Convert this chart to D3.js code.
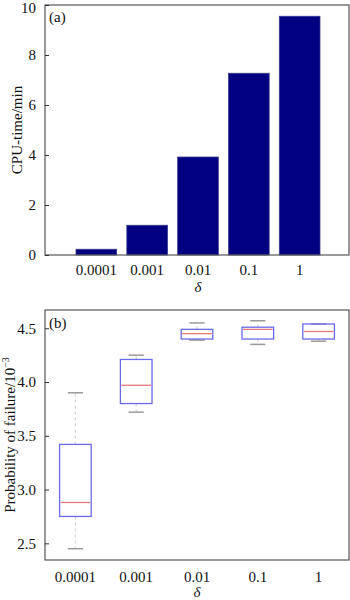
<!DOCTYPE html>
<html><head><meta charset="utf-8">
<script src="https://cdn.jsdelivr.net/npm/d3@7"></script>
<style>body{margin:0;background:#fff}svg{display:block}text{font-family:"Liberation Serif","Times New Roman",serif;fill:#111}</style>
</head><body><svg id="c" width="350" height="600"></svg>
<script>
const categories = ["0.0001","0.001","0.01","0.1","1"];
const cpuTime = [0.23, 1.19, 3.92, 7.27, 9.55];
const cpuTicks = [0,2,4,6,8,10];
// box plot stats (×10^-3)
const whiskerLow  = [2.45, 3.72, 4.39, 4.35, 4.38];
const q1          = [2.75, 3.80, 4.40, 4.40, 4.40];
const median      = [2.88, 3.97, 4.45, 4.49, 4.47];
const q3          = [3.42, 4.21, 4.49, 4.51, 4.54];
const whiskerHigh = [3.90, 4.25, 4.55, 4.57, 4.54];
const pfTicks = [2.5, 3.0, 3.5, 4.0, 4.5];

const svg = d3.select("#c");
const FS = 15;

// ---------- Panel (a) ----------
const A = {l:45, r:349, t:5, b:255};
const xa = d3.scaleLinear().domain([0,6]).range([45.5,350.5]);
const ya = d3.scaleLinear().domain([0,10]).range([A.b,A.t]);
const ga = svg.append("g");
ga.selectAll("rect.bar").data(cpuTime).join("rect").attr("class","bar")
  .attr("x",(d,i)=>xa(i+1)-xa(0.4)+xa(0))
  .attr("width",xa(0.8)-xa(0))
  .attr("y",d=>ya(d)).attr("height",d=>ya(0)-ya(d))
  .attr("fill","#000080").attr("stroke","#3b3b8f").attr("stroke-width",0.8);
ga.append("rect").attr("x",A.l).attr("y",A.t).attr("width",A.r-A.l).attr("height",A.b-A.t)
  .attr("fill","none").attr("stroke","#555").attr("stroke-width",1.2);
const axA = d3.axisLeft(ya).tickValues(cpuTicks).tickSize(-4).tickPadding(9).tickFormat(d3.format("d"));
ga.append("g").attr("transform",`translate(${A.l},0)`).call(axA)
  .call(g=>{g.select(".domain").remove();g.selectAll("line").attr("stroke","#333");
    g.selectAll("text").attr("font-size",FS).attr("fill","#111")
     .attr("dy",d=>d===10?"0.5em":"0.32em");});
ga.selectAll("text.xl").data(categories).join("text").attr("class","xl")
  .attr("x",(d,i)=>xa(i+1)).attr("y",275).attr("text-anchor","middle").attr("font-size",FS).text(d=>d);
ga.append("text").attr("x",xa(3)).attr("y",292).attr("text-anchor","middle")
  .attr("font-size",FS).attr("font-style","italic").text("δ");
ga.append("text").attr("transform",`translate(22,${(A.t+A.b)/2}) rotate(-90)`)
  .attr("text-anchor","middle").attr("font-size",FS).text("CPU-time/min");
ga.append("text").attr("x",49).attr("y",22).attr("font-size",FS).text("(a)");

// ---------- Panel (b) ----------
const B = {l:45, r:349, t:310, b:560};
const xb = d3.scaleBand().domain(categories).range([B.l,B.r]);
const yb = d3.scaleLinear().domain([2.345,4.67]).range([B.b,B.t]);
const gb = svg.append("g");
gb.append("rect").attr("x",B.l).attr("y",B.t).attr("width",B.r-B.l).attr("height",B.b-B.t)
  .attr("fill","#fff").attr("stroke","#555").attr("stroke-width",1.2);
const bw = xb.bandwidth()*0.52, cw = xb.bandwidth()*0.25;
const cx = d => xb(d)+xb.bandwidth()/2;
const boxes = gb.selectAll("g.box").data(categories).join("g").attr("class","box");
// whiskers
boxes.append("line").attr("x1",cx).attr("x2",cx)
  .attr("y1",(d,i)=>yb(q3[i])).attr("y2",(d,i)=>yb(whiskerHigh[i]))
  .attr("stroke","#d4d4d4").attr("stroke-width",1.2).attr("stroke-dasharray","3,3");
boxes.append("line").attr("x1",cx).attr("x2",cx)
  .attr("y1",(d,i)=>yb(q1[i])).attr("y2",(d,i)=>yb(whiskerLow[i]))
  .attr("stroke","#d4d4d4").attr("stroke-width",1.2).attr("stroke-dasharray","3,3");
// caps
boxes.append("line").attr("x1",d=>cx(d)-cw/2).attr("x2",d=>cx(d)+cw/2)
  .attr("y1",(d,i)=>yb(whiskerHigh[i])).attr("y2",(d,i)=>yb(whiskerHigh[i]))
  .attr("stroke","#9a9a9a").attr("stroke-width",1.5);
boxes.append("line").attr("x1",d=>cx(d)-cw/2).attr("x2",d=>cx(d)+cw/2)
  .attr("y1",(d,i)=>yb(whiskerLow[i])).attr("y2",(d,i)=>yb(whiskerLow[i]))
  .attr("stroke","#9a9a9a").attr("stroke-width",1.5);
// box
boxes.append("rect").attr("x",d=>cx(d)-bw/2).attr("width",bw)
  .attr("y",(d,i)=>yb(q3[i])).attr("height",(d,i)=>yb(q1[i])-yb(q3[i]))
  .attr("fill","none").attr("stroke","#6a6ae6").attr("stroke-width",1.3);
// median
boxes.append("line").attr("x1",d=>cx(d)-bw/2+1).attr("x2",d=>cx(d)+bw/2-1)
  .attr("y1",(d,i)=>yb(median[i])).attr("y2",(d,i)=>yb(median[i]))
  .attr("stroke","#e87878").attr("stroke-width",1.3);
const axB = d3.axisLeft(yb).tickValues(pfTicks).tickSize(-4).tickPadding(9).tickFormat(d3.format(".1f"));
gb.append("g").attr("transform",`translate(${B.l},0)`).call(axB)
  .call(g=>{g.select(".domain").remove();g.selectAll("line").attr("stroke","#333");
    g.selectAll("text").attr("font-size",FS).attr("fill","#111");});
gb.selectAll("text.xl").data(categories).join("text").attr("class","xl")
  .attr("x",cx).attr("y",582).attr("text-anchor","middle").attr("font-size",FS).text(d=>d);
gb.append("text").attr("x",xb("0.01")+xb.bandwidth()/2).attr("y",597).attr("text-anchor","middle")
  .attr("font-size",FS).attr("font-style","italic").text("δ");
const yl = gb.append("text").attr("transform",`translate(15,${(B.t+B.b)/2}) rotate(-90)`)
  .attr("text-anchor","middle").attr("font-size",FS);
yl.append("tspan").text("Probability of failure/10");
yl.append("tspan").attr("dy",-6).attr("font-size",10).text("−3");
gb.append("text").attr("x",49).attr("y",328).attr("font-size",FS).text("(b)");
</script></body></html>
